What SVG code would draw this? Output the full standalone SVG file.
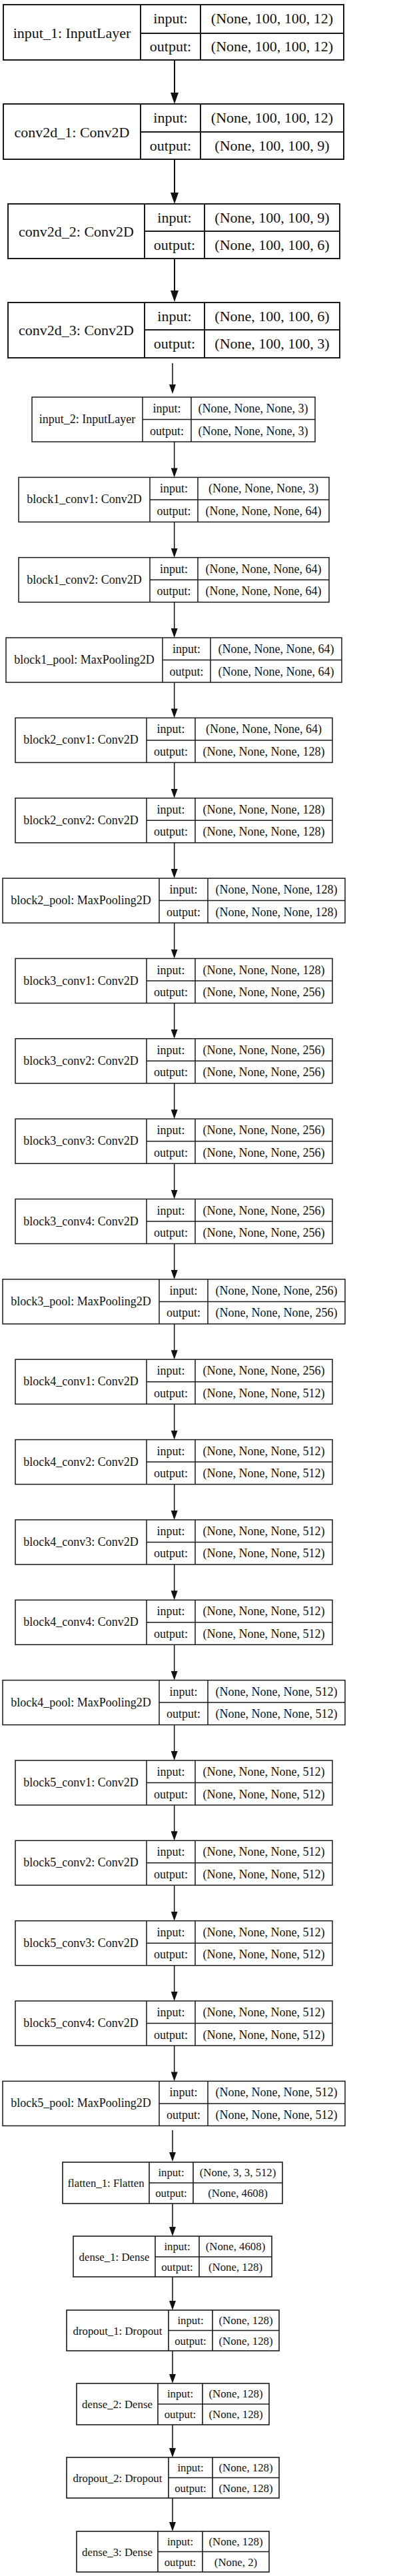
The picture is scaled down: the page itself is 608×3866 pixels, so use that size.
<svg xmlns="http://www.w3.org/2000/svg" width="608" height="3866" viewBox="0 0 608 3866">
<style>
rect{fill:#fff;stroke:#1a1a1a}
path.g{fill:none;stroke:#1a1a1a}
text{font-family:"Liberation Serif","Times New Roman",serif;fill:#111;text-anchor:middle}
.T rect,.T path.g{stroke-width:2}
.T text{font-size:22px}
.M rect,.M path.g{stroke-width:1.5}
.M text{font-size:18px}
.B rect,.B path.g{stroke-width:1.6}
.B text{font-size:16.8px}
.e{fill:none;stroke:#111}
.et{stroke-width:2;marker-end:url(#hT)}
.es{stroke-width:1.5;marker-end:url(#hS)}
</style>
<defs>
<marker id="hT" markerUnits="userSpaceOnUse" markerWidth="17" markerHeight="12" viewBox="0 0 17 12" refX="3" refY="6" orient="auto"><path d="M0,0L17,6L0,12z" fill="#111"/></marker>
<marker id="hS" markerUnits="userSpaceOnUse" markerWidth="14" markerHeight="10" viewBox="0 0 14 10" refX="3" refY="5" orient="auto"><path d="M0,0L14,5L0,10z" fill="#111"/></marker>
</defs>
<rect x="0" y="0" width="608" height="3866" style="stroke:none"/>

<g id="connectors">
<path class="e et" d="M262,90V142"/>
<path class="e et" d="M262,239V292"/>
<path class="e et" d="M262,388V439"/>
<path class="e es" d="M259,545V580"/>
<path class="e es" d="M261.7,663V705.4"/>
<path class="e es" d="M261.7,783.4V825.7"/>
<path class="e es" d="M261.7,903.7V946.1"/>
<path class="e es" d="M261.7,1024.1V1066.4"/>
<path class="e es" d="M261.7,1144.4V1186.8"/>
<path class="e es" d="M261.7,1264.8V1307.1"/>
<path class="e es" d="M261.7,1385.1V1427.5"/>
<path class="e es" d="M261.7,1505.5V1547.8"/>
<path class="e es" d="M261.7,1625.8V1668.2"/>
<path class="e es" d="M261.7,1746.2V1788.5"/>
<path class="e es" d="M261.7,1866.5V1908.9"/>
<path class="e es" d="M261.7,1986.9V2029.2"/>
<path class="e es" d="M261.7,2107.2V2149.6"/>
<path class="e es" d="M261.7,2227.6V2269.9"/>
<path class="e es" d="M261.7,2347.9V2390.3"/>
<path class="e es" d="M261.7,2468.3V2510.6"/>
<path class="e es" d="M261.7,2588.6V2631"/>
<path class="e es" d="M261.7,2709V2751.3"/>
<path class="e es" d="M261.7,2829.3V2871.7"/>
<path class="e es" d="M261.7,2949.7V2992"/>
<path class="e es" d="M261.7,3070V3112.4"/>
<path class="e es" d="M259,3197V3233"/>
<path class="e es" d="M259,3307V3345"/>
<path class="e es" d="M259,3417V3456"/>
<path class="e es" d="M259,3528V3566"/>
<path class="e es" d="M259,3639V3677"/>
<path class="e es" d="M259,3749V3788"/>
</g>

<g id="input_1" class="T" transform="translate(0,7)">
<rect x="5" y="0" width="511" height="83"/>
<path class="g" d="M211,0V83M301,0V83M211,43H516"/>
<text x="108" y="50">input_1: InputLayer</text>
<text x="256" y="28">input:</text>
<text x="256" y="70">output:</text>
<text x="408.5" y="28">(None, 100, 100, 12)</text>
<text x="408.5" y="70">(None, 100, 100, 12)</text>
</g>
<g id="conv2d_1" class="T" transform="translate(0,156)">
<rect x="5" y="0" width="511" height="83"/>
<path class="g" d="M211,0V83M301,0V83M211,42H516"/>
<text x="108" y="50">conv2d_1: Conv2D</text>
<text x="256" y="28">input:</text>
<text x="256" y="70">output:</text>
<text x="408.5" y="28">(None, 100, 100, 12)</text>
<text x="408.5" y="70">(None, 100, 100, 9)</text>
</g>
<g id="conv2d_2" class="T" transform="translate(0,306)">
<rect x="12" y="0" width="498" height="82"/>
<path class="g" d="M217,0V82M307,0V82M217,41H510"/>
<text x="114.5" y="49">conv2d_2: Conv2D</text>
<text x="262" y="28">input:</text>
<text x="262" y="69">output:</text>
<text x="408.5" y="28">(None, 100, 100, 9)</text>
<text x="408.5" y="69">(None, 100, 100, 6)</text>
</g>
<g id="conv2d_3" class="T" transform="translate(0,454)">
<rect x="12" y="0" width="498" height="83"/>
<path class="g" d="M217,0V83M307,0V83M217,41H510"/>
<text x="114.5" y="49">conv2d_3: Conv2D</text>
<text x="262" y="28">input:</text>
<text x="262" y="69">output:</text>
<text x="408.5" y="28">(None, 100, 100, 6)</text>
<text x="408.5" y="69">(None, 100, 100, 3)</text>
</g>

<g id="input_2" class="M" transform="translate(0,596)">
<rect x="48" y="0" width="425" height="67"/>
<path class="g" d="M214,0V67M287,0V67M214,33.5H473"/>
<text x="131" y="39">input_2: InputLayer</text>
<text x="250.5" y="23">input:</text>
<text x="250.5" y="56.5">output:</text>
<text x="380" y="23">(None, None, None, 3)</text>
<text x="380" y="56.5">(None, None, None, 3)</text>
</g>
<g id="block1_conv1" class="M" transform="translate(0,716.4)">
<rect x="28" y="0" width="466" height="67"/>
<path class="g" d="M225,0V67M297,0V67M225,33.5H494"/>
<text x="126.5" y="39">block1_conv1: Conv2D</text>
<text x="261" y="23">input:</text>
<text x="261" y="56.5">output:</text>
<text x="395.5" y="23">(None, None, None, 3)</text>
<text x="395.5" y="56.5">(None, None, None, 64)</text>
</g>
<g id="block1_conv2" class="M" transform="translate(0,836.7)">
<rect x="28" y="0" width="466" height="67"/>
<path class="g" d="M225,0V67M297,0V67M225,33.5H494"/>
<text x="126.5" y="39">block1_conv2: Conv2D</text>
<text x="261" y="23">input:</text>
<text x="261" y="56.5">output:</text>
<text x="395.5" y="23">(None, None, None, 64)</text>
<text x="395.5" y="56.5">(None, None, None, 64)</text>
</g>
<g id="block1_pool" class="M" transform="translate(0,957.1)">
<rect x="9" y="0" width="504" height="67"/>
<path class="g" d="M244,0V67M316,0V67M244,33.5H513"/>
<text x="126.5" y="39">block1_pool: MaxPooling2D</text>
<text x="280" y="23">input:</text>
<text x="280" y="56.5">output:</text>
<text x="414.5" y="23">(None, None, None, 64)</text>
<text x="414.5" y="56.5">(None, None, None, 64)</text>
</g>
<g id="block2_conv1" class="M" transform="translate(0,1077.4)">
<rect x="23" y="0" width="476" height="67"/>
<path class="g" d="M220,0V67M293,0V67M220,33.5H499"/>
<text x="121.5" y="39">block2_conv1: Conv2D</text>
<text x="256.5" y="23">input:</text>
<text x="256.5" y="56.5">output:</text>
<text x="396" y="23">(None, None, None, 64)</text>
<text x="396" y="56.5">(None, None, None, 128)</text>
</g>
<g id="block2_conv2" class="M" transform="translate(0,1197.8)">
<rect x="23" y="0" width="476" height="67"/>
<path class="g" d="M220,0V67M293,0V67M220,33.5H499"/>
<text x="121.5" y="39">block2_conv2: Conv2D</text>
<text x="256.5" y="23">input:</text>
<text x="256.5" y="56.5">output:</text>
<text x="396" y="23">(None, None, None, 128)</text>
<text x="396" y="56.5">(None, None, None, 128)</text>
</g>
<g id="block2_pool" class="M" transform="translate(0,1318.1)">
<rect x="4" y="0" width="514" height="67"/>
<path class="g" d="M239,0V67M312,0V67M239,33.5H518"/>
<text x="121.5" y="39">block2_pool: MaxPooling2D</text>
<text x="275.5" y="23">input:</text>
<text x="275.5" y="56.5">output:</text>
<text x="415" y="23">(None, None, None, 128)</text>
<text x="415" y="56.5">(None, None, None, 128)</text>
</g>
<g id="block3_conv1" class="M" transform="translate(0,1438.5)">
<rect x="23" y="0" width="476" height="67"/>
<path class="g" d="M220,0V67M293,0V67M220,33.5H499"/>
<text x="121.5" y="39">block3_conv1: Conv2D</text>
<text x="256.5" y="23">input:</text>
<text x="256.5" y="56.5">output:</text>
<text x="396" y="23">(None, None, None, 128)</text>
<text x="396" y="56.5">(None, None, None, 256)</text>
</g>
<g id="block3_conv2" class="M" transform="translate(0,1558.8)">
<rect x="23" y="0" width="476" height="67"/>
<path class="g" d="M220,0V67M293,0V67M220,33.5H499"/>
<text x="121.5" y="39">block3_conv2: Conv2D</text>
<text x="256.5" y="23">input:</text>
<text x="256.5" y="56.5">output:</text>
<text x="396" y="23">(None, None, None, 256)</text>
<text x="396" y="56.5">(None, None, None, 256)</text>
</g>
<g id="block3_conv3" class="M" transform="translate(0,1679.2)">
<rect x="23" y="0" width="476" height="67"/>
<path class="g" d="M220,0V67M293,0V67M220,33.5H499"/>
<text x="121.5" y="39">block3_conv3: Conv2D</text>
<text x="256.5" y="23">input:</text>
<text x="256.5" y="56.5">output:</text>
<text x="396" y="23">(None, None, None, 256)</text>
<text x="396" y="56.5">(None, None, None, 256)</text>
</g>
<g id="block3_conv4" class="M" transform="translate(0,1799.5)">
<rect x="23" y="0" width="476" height="67"/>
<path class="g" d="M220,0V67M293,0V67M220,33.5H499"/>
<text x="121.5" y="39">block3_conv4: Conv2D</text>
<text x="256.5" y="23">input:</text>
<text x="256.5" y="56.5">output:</text>
<text x="396" y="23">(None, None, None, 256)</text>
<text x="396" y="56.5">(None, None, None, 256)</text>
</g>
<g id="block3_pool" class="M" transform="translate(0,1919.9)">
<rect x="4" y="0" width="514" height="67"/>
<path class="g" d="M239,0V67M312,0V67M239,33.5H518"/>
<text x="121.5" y="39">block3_pool: MaxPooling2D</text>
<text x="275.5" y="23">input:</text>
<text x="275.5" y="56.5">output:</text>
<text x="415" y="23">(None, None, None, 256)</text>
<text x="415" y="56.5">(None, None, None, 256)</text>
</g>
<g id="block4_conv1" class="M" transform="translate(0,2040.2)">
<rect x="23" y="0" width="476" height="67"/>
<path class="g" d="M220,0V67M293,0V67M220,33.5H499"/>
<text x="121.5" y="39">block4_conv1: Conv2D</text>
<text x="256.5" y="23">input:</text>
<text x="256.5" y="56.5">output:</text>
<text x="396" y="23">(None, None, None, 256)</text>
<text x="396" y="56.5">(None, None, None, 512)</text>
</g>
<g id="block4_conv2" class="M" transform="translate(0,2160.6)">
<rect x="23" y="0" width="476" height="67"/>
<path class="g" d="M220,0V67M293,0V67M220,33.5H499"/>
<text x="121.5" y="39">block4_conv2: Conv2D</text>
<text x="256.5" y="23">input:</text>
<text x="256.5" y="56.5">output:</text>
<text x="396" y="23">(None, None, None, 512)</text>
<text x="396" y="56.5">(None, None, None, 512)</text>
</g>
<g id="block4_conv3" class="M" transform="translate(0,2280.9)">
<rect x="23" y="0" width="476" height="67"/>
<path class="g" d="M220,0V67M293,0V67M220,33.5H499"/>
<text x="121.5" y="39">block4_conv3: Conv2D</text>
<text x="256.5" y="23">input:</text>
<text x="256.5" y="56.5">output:</text>
<text x="396" y="23">(None, None, None, 512)</text>
<text x="396" y="56.5">(None, None, None, 512)</text>
</g>
<g id="block4_conv4" class="M" transform="translate(0,2401.3)">
<rect x="23" y="0" width="476" height="67"/>
<path class="g" d="M220,0V67M293,0V67M220,33.5H499"/>
<text x="121.5" y="39">block4_conv4: Conv2D</text>
<text x="256.5" y="23">input:</text>
<text x="256.5" y="56.5">output:</text>
<text x="396" y="23">(None, None, None, 512)</text>
<text x="396" y="56.5">(None, None, None, 512)</text>
</g>
<g id="block4_pool" class="M" transform="translate(0,2521.6)">
<rect x="4" y="0" width="514" height="67"/>
<path class="g" d="M239,0V67M312,0V67M239,33.5H518"/>
<text x="121.5" y="39">block4_pool: MaxPooling2D</text>
<text x="275.5" y="23">input:</text>
<text x="275.5" y="56.5">output:</text>
<text x="415" y="23">(None, None, None, 512)</text>
<text x="415" y="56.5">(None, None, None, 512)</text>
</g>
<g id="block5_conv1" class="M" transform="translate(0,2642)">
<rect x="23" y="0" width="476" height="67"/>
<path class="g" d="M220,0V67M293,0V67M220,33.5H499"/>
<text x="121.5" y="39">block5_conv1: Conv2D</text>
<text x="256.5" y="23">input:</text>
<text x="256.5" y="56.5">output:</text>
<text x="396" y="23">(None, None, None, 512)</text>
<text x="396" y="56.5">(None, None, None, 512)</text>
</g>
<g id="block5_conv2" class="M" transform="translate(0,2762.3)">
<rect x="23" y="0" width="476" height="67"/>
<path class="g" d="M220,0V67M293,0V67M220,33.5H499"/>
<text x="121.5" y="39">block5_conv2: Conv2D</text>
<text x="256.5" y="23">input:</text>
<text x="256.5" y="56.5">output:</text>
<text x="396" y="23">(None, None, None, 512)</text>
<text x="396" y="56.5">(None, None, None, 512)</text>
</g>
<g id="block5_conv3" class="M" transform="translate(0,2882.7)">
<rect x="23" y="0" width="476" height="67"/>
<path class="g" d="M220,0V67M293,0V67M220,33.5H499"/>
<text x="121.5" y="39">block5_conv3: Conv2D</text>
<text x="256.5" y="23">input:</text>
<text x="256.5" y="56.5">output:</text>
<text x="396" y="23">(None, None, None, 512)</text>
<text x="396" y="56.5">(None, None, None, 512)</text>
</g>
<g id="block5_conv4" class="M" transform="translate(0,3003)">
<rect x="23" y="0" width="476" height="67"/>
<path class="g" d="M220,0V67M293,0V67M220,33.5H499"/>
<text x="121.5" y="39">block5_conv4: Conv2D</text>
<text x="256.5" y="23">input:</text>
<text x="256.5" y="56.5">output:</text>
<text x="396" y="23">(None, None, None, 512)</text>
<text x="396" y="56.5">(None, None, None, 512)</text>
</g>
<g id="block5_pool" class="M" transform="translate(0,3123.4)">
<rect x="4" y="0" width="514" height="67"/>
<path class="g" d="M239,0V67M312,0V67M239,33.5H518"/>
<text x="121.5" y="39">block5_pool: MaxPooling2D</text>
<text x="275.5" y="23">input:</text>
<text x="275.5" y="56.5">output:</text>
<text x="415" y="23">(None, None, None, 512)</text>
<text x="415" y="56.5">(None, None, None, 512)</text>
</g>

<g id="flatten_1" class="B" transform="translate(0,3245)">
<rect x="94" y="0" width="330" height="62"/>
<path class="g" d="M224,0V62M290,0V62M224,31H424"/>
<text x="159" y="36.5">flatten_1: Flatten</text>
<text x="257" y="21">input:</text>
<text x="257" y="51.5">output:</text>
<text x="357" y="21">(None, 3, 3, 512)</text>
<text x="357" y="51.5">(None, 4608)</text>
</g>
<g id="dense_1" class="B" transform="translate(0,3356)">
<rect x="110" y="0" width="298" height="61"/>
<path class="g" d="M233,0V61M299,0V61M233,31H408"/>
<text x="171.5" y="36.5">dense_1: Dense</text>
<text x="266" y="21">input:</text>
<text x="266" y="51.5">output:</text>
<text x="353.5" y="21">(None, 4608)</text>
<text x="353.5" y="51.5">(None, 128)</text>
</g>
<g id="dropout_1" class="B" transform="translate(0,3467)">
<rect x="100" y="0" width="319" height="61"/>
<path class="g" d="M253,0V61M319,0V61M253,30.5H419"/>
<text x="176.5" y="36.5">dropout_1: Dropout</text>
<text x="286" y="21">input:</text>
<text x="286" y="51.5">output:</text>
<text x="369" y="21">(None, 128)</text>
<text x="369" y="51.5">(None, 128)</text>
</g>
<g id="dense_2" class="B" transform="translate(0,3577)">
<rect x="115" y="0" width="289" height="62"/>
<path class="g" d="M237,0V62M304,0V62M237,31H404"/>
<text x="176" y="36.5">dense_2: Dense</text>
<text x="270.5" y="21">input:</text>
<text x="270.5" y="51.5">output:</text>
<text x="354" y="21">(None, 128)</text>
<text x="354" y="51.5">(None, 128)</text>
</g>
<g id="dropout_2" class="B" transform="translate(0,3688)">
<rect x="100" y="0" width="319" height="61"/>
<path class="g" d="M253,0V61M319,0V61M253,30.5H419"/>
<text x="176.5" y="36.5">dropout_2: Dropout</text>
<text x="286" y="21">input:</text>
<text x="286" y="51.5">output:</text>
<text x="369" y="21">(None, 128)</text>
<text x="369" y="51.5">(None, 128)</text>
</g>
<g id="dense_3" class="B" transform="translate(0,3799)">
<rect x="115" y="0" width="289" height="61"/>
<path class="g" d="M237,0V61M304,0V61M237,30.5H404"/>
<text x="176" y="36.5">dense_3: Dense</text>
<text x="270.5" y="21">input:</text>
<text x="270.5" y="51.5">output:</text>
<text x="354" y="21">(None, 128)</text>
<text x="354" y="51.5">(None, 2)</text>
</g>
</svg>
